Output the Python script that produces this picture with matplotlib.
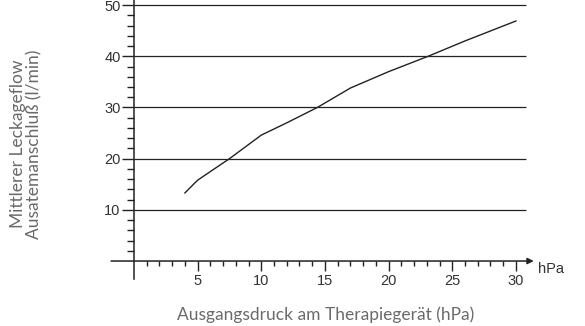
import numpy as np
import matplotlib.pyplot as plt
from matplotlib.ticker import MultipleLocator

# data
druck = [4, 5, 7.5, 10, 12, 14.4, 17, 20, 23.1, 26, 30]
leckage = [13.3, 15.8, 20.0, 24.6, 27.0, 30.0, 33.8, 37.0, 40.0, 43.0, 46.9]
y_ticks = [10, 20, 30, 40, 50]
x_ticks = [5, 10, 15, 20, 25, 30]

ink = "#222222"
label_grey = "#6a6a6a"


def main():
    fig = plt.figure(figsize=(5.85, 3.26), dpi=100)
    ax = fig.add_axes([0.1855, 0.1365, 0.7508, 0.8635])
    ax.set_xlim(-2, 32.5)
    ax.set_ylim(-4, 51)

    for s in ["top", "right", "bottom"]:
        ax.spines[s].set_visible(False)
    ax.spines["left"].set_position(("data", 0))
    ax.spines["left"].set_bounds(-3.6, 51)
    ax.spines["left"].set_color(ink)
    ax.spines["left"].set_linewidth(1.1)

    # x axis with arrow
    ax.annotate("", xy=(31.4, 0), xytext=(-1.8, 0),
                arrowprops=dict(arrowstyle="-|>", color=ink, lw=1.1,
                                mutation_scale=9, shrinkA=0, shrinkB=0))

    # horizontal grid lines
    ax.hlines(y_ticks, 0, 30.8, color=ink, lw=0.9)

    ax.plot(druck, leckage, color=ink, lw=1.0)

    ax.xaxis.set_ticks_position("bottom")
    ax.spines["bottom"].set_position(("data", 0))
    ax.set_xticks(x_ticks)
    ax.set_xticks([1, 2, 3, 4] + [i for i in range(6, 31) if i % 5], minor=True)
    ax.set_yticks(y_ticks)
    ax.set_yticks([2, 4, 6, 8] + [i for i in range(12, 50, 2) if i % 10], minor=True)

    ax.tick_params(axis="x", which="major", direction="out", length=7.2,
                   width=1.0, color=ink, labelsize=10.5, labelcolor="#333333", pad=2)
    ax.tick_params(axis="x", which="minor", direction="out", length=3.6,
                   width=1.0, color=ink)
    ax.tick_params(axis="y", which="major", direction="out", length=8.6,
                   width=1.0, color=ink, labelsize=10.5, labelcolor="#333333", pad=1)
    ax.tick_params(axis="y", which="minor", direction="out", length=5,
                   width=1.0, color=ink)
    for lab in ax.get_xticklabels() + ax.get_yticklabels():
        lab.set_family("Liberation Sans")

    ax.text(31.7, -1.6, "hPa", fontsize=10.5, color="#333333",
            family="Liberation Sans", va="center", ha="left")

    fig.text(326 / 585, 1 - 315 / 326, "Ausgangsdruck am Therapiegerät (hPa)",
             fontsize=12.5, color=label_grey, family="Lato",
             ha="center", va="center")
    fig.text(26 / 585, 1 - 144 / 326, "Mittlerer Leckageflow\nAusatemanschluß (l/min)",
             fontsize=12.5, color=label_grey, family="Lato",
             ha="center", va="center", rotation=90, linespacing=1.0)

    fig.savefig("out.png", dpi=100)
    plt.close(fig)


if __name__ == "__main__":
    main()
